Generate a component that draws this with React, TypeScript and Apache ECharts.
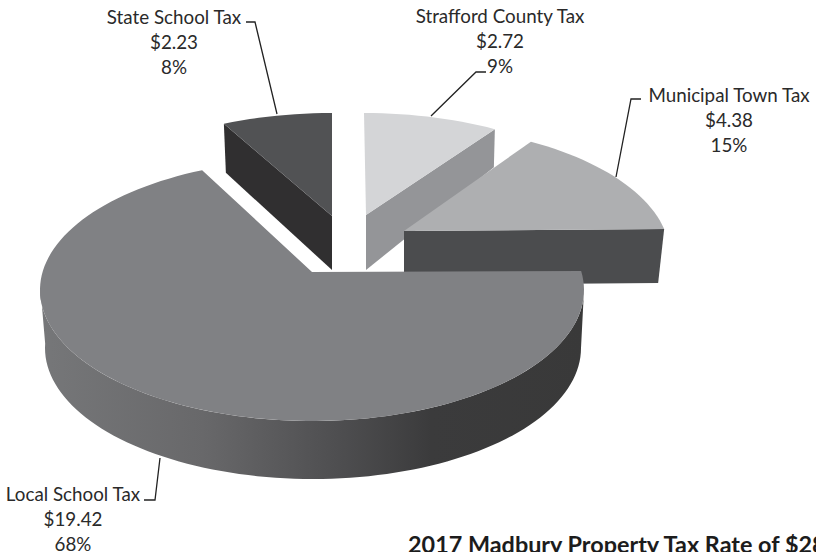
import React, { useEffect, useRef } from "react";
import * as echarts from "echarts";

const categories = ["Strafford County Tax", "Municipal Town Tax", "Local School Tax", "State School Tax"];
const taxRates = [2.72, 4.38, 19.42, 2.23];
const percentLabels = ["9%", "15%", "68%", "8%"];
const chartTitle = "2017 Madbury Property Tax Rate of $28.75";

// Slice geometry (the tilted, exploded look of the original)
const ELL_RX = 272;
const ELL_RY = 131;
const centers = [[364, 244], [398, 256], [312, 290], [332, 244]];
const apexes = [[366, 215], [404, 231], [312, 272], [332, 216]];
const startTrim = [0, -4.8, -7.2, 4.5];
const endTrim = [-5.3, -10.8, 4.1, 0];
const topColors = ["#d4d5d7", "#aeafb1", "#808184", "#515254"];
const labelPos = [[500, 15], [729, 94], [73, 493], [174, 16]];
const leaders = [
  [[486, 72], [476, 72], [431, 116]],
  [[641, 99], [631, 99], [616, 177]],
  [[144, 500], [155, 500], [160, 458]],
  [[246, 22], [255, 22], [277, 114]],
];
const drawOrder = [0, 3, 1, 2];

const total = taxRates.reduce((a, b) => a + b, 0);
const ranges = (() => {
  let acc = 0;
  return taxRates.map((v, i) => {
    const s = (acc / total) * 360 + startTrim[i];
    acc += v;
    return [s, (acc / total) * 360 + endTrim[i]];
  });
})();

const pt = (c: number[], rx: number, ry: number, deg: number) => {
  const a = (deg * Math.PI) / 180;
  return [c[0] + rx * Math.sin(a), c[1] - ry * Math.cos(a)];
};
const arc = (c: number[], rx: number, ry: number, a0: number, a1: number) => {
  const n = Math.max(8, Math.ceil(Math.abs(a1 - a0) / 2));
  const out: number[][] = [];
  for (let i = 0; i <= n; i++) out.push(pt(c, rx, ry, a0 + ((a1 - a0) * i) / n));
  return out;
};
const poly = (points: number[][], fill: any) => ({ type: "polygon", shape: { points }, style: { fill, stroke: "none" } });

function renderSlice(params: any) {
  const i = drawOrder[params.dataIndex];
  const c = centers[i];
  const ap = apexes[i];
  const [a0, a1] = ranges[i];
  const rim = arc(c, ELL_RX, ELL_RY, a0, a1);
  const top = poly([ap, ...rim], topColors[i]);
  const children: any[] = [];
  if (i === 0) {
    const e = rim[rim.length - 1];
    children.push(poly([ap, e, [e[0] - 1, e[1] + 38], [ap[0], ap[1] + 55]], "#949598"));
  } else if (i === 1) {
    const e = rim[rim.length - 1];
    children.push(poly([ap, e, [e[0] - 6, e[1] + 54], [ap[0], ap[1] + 54]], "#4b4c4e"));
  } else if (i === 3) {
    const s = rim[0];
    children.push(poly([s, ap, [ap[0], ap[1] + 54], [s[0] + 2, s[1] + 49]], "#302f30"));
  } else {
    const upper = arc(c, ELL_RX, ELL_RY, 90, 272);
    const lower = arc([c[0] + 1, c[1] + 58], ELL_RX - 4, ELL_RY, 272, 90);
    children.push(
      poly([...upper, ...lower], {
        type: "linear", x: 0, y: 0, x2: 1, y2: 0,
        colorStops: [
          { offset: 0, color: "#767779" },
          { offset: 0.3, color: "#68686a" },
          { offset: 0.55, color: "#4e4e50" },
          { offset: 0.72, color: "#3b3b3c" },
          { offset: 1, color: "#393939" },
        ],
      })
    );
  }
  children.push(top);
  return { type: "group", children };
}

export default function App() {
  const ref = useRef<HTMLDivElement>(null);
  useEffect(() => {
    const chart = echarts.init(ref.current!, undefined, { renderer: "svg" });
    const font = "Lato, 'Open Sans', sans-serif";
    chart.setOption({
      animation: false,
      backgroundColor: "#ffffff",
      title: {
        text: chartTitle,
        left: 408,
        top: 532,
        padding: 0,
        textStyle: { fontFamily: font, fontWeight: "bold", fontSize: 23.4, color: "#1c1c1c" },
      },
      series: [
        {
          type: "custom",
          coordinateSystem: "none",
          renderItem: renderSlice,
          data: drawOrder.map((i) => ({ name: categories[i], value: taxRates[i] })),
          silent: true,
        },
      ],
      graphic: [
        ...leaders.map((points) => ({
          type: "polyline",
          shape: { points },
          style: { stroke: "#222222", lineWidth: 1.3, fill: "none" },
          z: 10,
        })),
        ...categories.flatMap((name, i) =>
          [name, `$${taxRates[i].toFixed(2)}`, percentLabels[i]].map((line, k) => ({
            type: "text",
            x: labelPos[i][0],
            y: labelPos[i][1] + k * 25,
            z: 10,
            style: {
              text: line,
              fontFamily: font,
              fontSize: 18.8,
              lineHeight: 17,
              fill: "#2a2a2a",
              textAlign: "center",
              textVerticalAlign: "middle",
            },
          }))
        ),
      ],
    });
    return () => chart.dispose();
  }, []);
  return (
    <div
      ref={ref}
      style={{ position: "fixed", left: 0, top: 0, width: 816, height: 552, overflow: "hidden", background: "#fff" }}
    />
  );
}
